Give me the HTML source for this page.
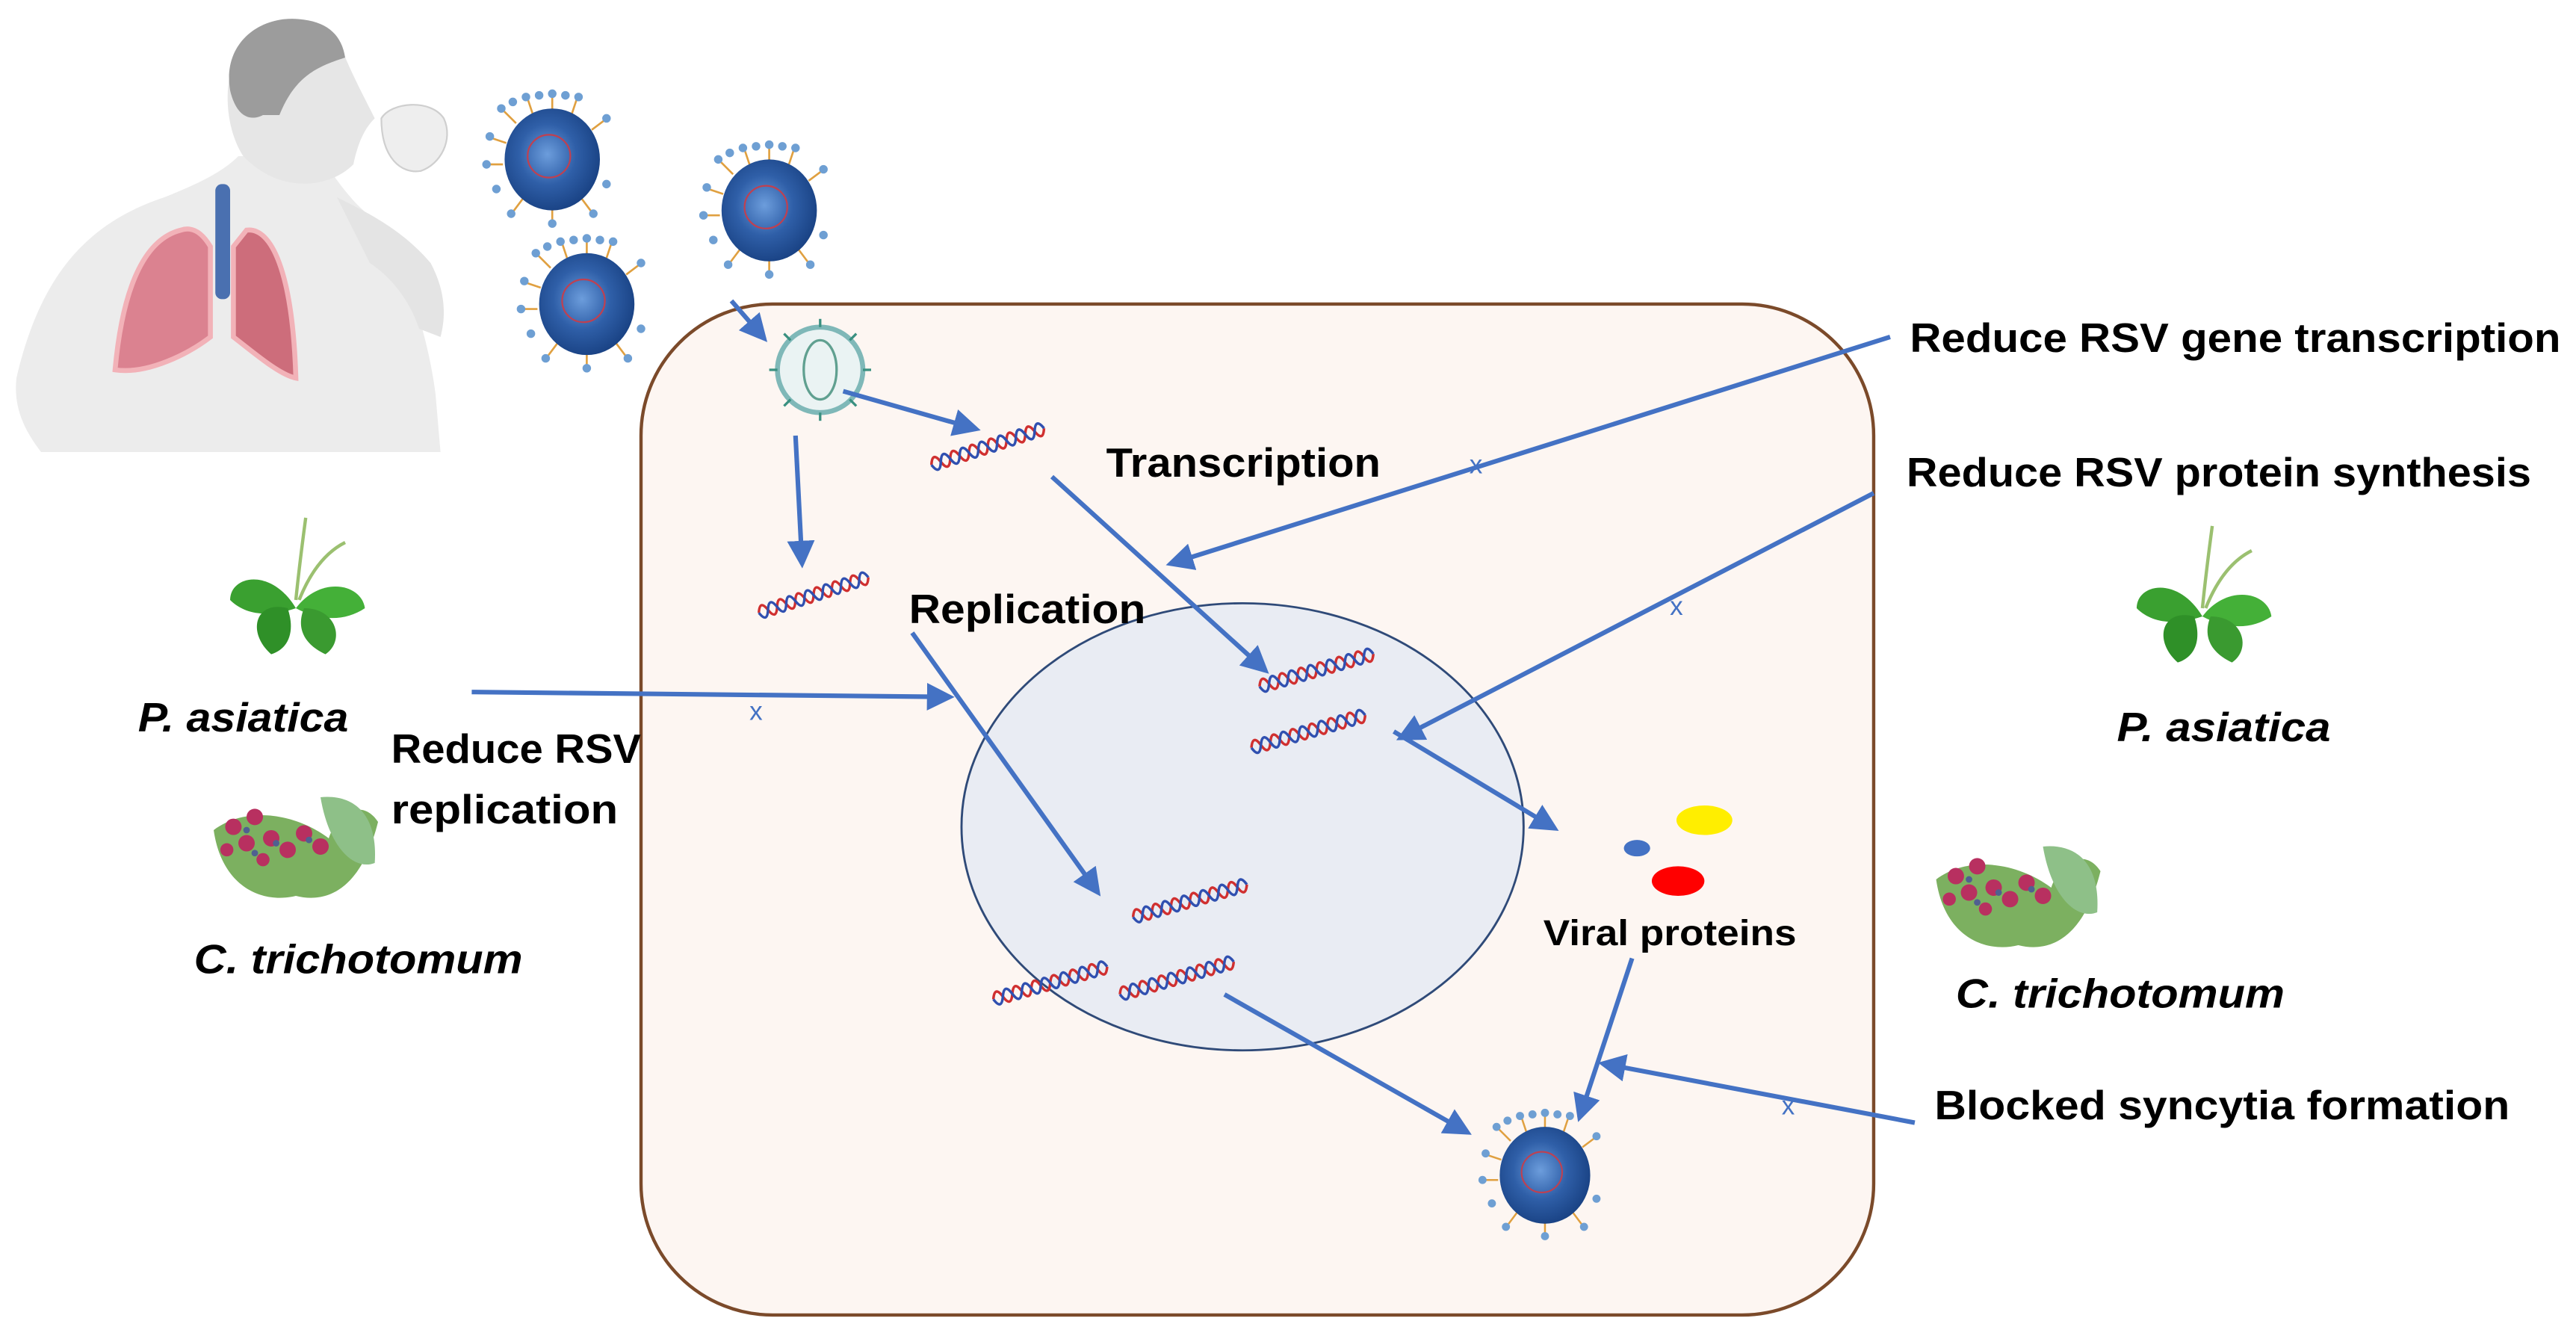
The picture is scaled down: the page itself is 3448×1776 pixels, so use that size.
<!DOCTYPE html>
<html><head><meta charset="utf-8"><style>html,body{margin:0;padding:0;background:#fff}svg{display:block}</style></head>
<body>
<svg width="3448" height="1776" viewBox="0 0 1567.3 807.3" xmlns="http://www.w3.org/2000/svg" font-family="'Liberation Sans', sans-serif">
<defs>
<marker id="ah" markerWidth="6" markerHeight="6" refX="5" refY="3" orient="auto" markerUnits="strokeWidth">
<path d="M0,0 L6,3 L0,6 Z" fill="#4472c4"/></marker>
<radialGradient id="vg" cx="0.45" cy="0.45" r="0.6"><stop offset="0" stop-color="#6c9ddc"/><stop offset="0.5" stop-color="#2f5fa8"/><stop offset="1" stop-color="#173f80"/></radialGradient>
<symbol id="virus" viewBox="-40 -40 80 80" overflow="visible">
<g stroke="#e0a040" stroke-width="1.2">
<line x1="-22" y1="-22" x2="-30" y2="-30"/><line x1="-12" y1="-28" x2="-15" y2="-37"/><line x1="0" y1="-30" x2="0" y2="-39"/><line x1="12" y1="-28" x2="15" y2="-37"/><line x1="-28" y1="-10" x2="-37" y2="-13"/><line x1="-30" y1="3" x2="-39" y2="3"/><line x1="24" y1="-18" x2="32" y2="-24"/><line x1="0" y1="30" x2="0" y2="38"/><line x1="-18" y1="24" x2="-24" y2="32"/><line x1="18" y1="24" x2="24" y2="32"/>
</g>
<g fill="#6e9fd3">
<circle cx="-31" cy="-31" r="2.6"/><circle cx="-16" cy="-38" r="2.6"/><circle cx="0" cy="-40" r="2.6"/><circle cx="16" cy="-38" r="2.6"/><circle cx="-38" cy="-14" r="2.6"/><circle cx="-40" cy="3" r="2.6"/><circle cx="33" cy="-25" r="2.6"/><circle cx="0" cy="39" r="2.6"/><circle cx="-25" cy="33" r="2.6"/><circle cx="25" cy="33" r="2.6"/><circle cx="33" cy="15" r="2.6"/><circle cx="-34" cy="18" r="2.6"/><circle cx="-8" cy="-39" r="2.6"/><circle cx="8" cy="-39" r="2.6"/><circle cx="-24" cy="-35" r="2.6"/>
</g>
<ellipse cx="0" cy="0" rx="29" ry="31" fill="url(#vg)"/>
<circle cx="-2" cy="-2" r="13" fill="none" stroke="#c04050" stroke-width="1"/>
</symbol>
<symbol id="rna" viewBox="0 0 72 20" overflow="visible">
<path d="M0,10 q3,-8 6,0 t6,0 t6,0 t6,0 t6,0 t6,0 t6,0 t6,0 t6,0 t6,0 t6,0 t6,0" fill="none" stroke="#d03030" stroke-width="1.6"/>
<path d="M0,10 q3,8 6,0 t6,0 t6,0 t6,0 t6,0 t6,0 t6,0 t6,0 t6,0 t6,0 t6,0 t6,0" fill="none" stroke="#3050b0" stroke-width="1.6"/>
</symbol>
<symbol id="leaf" viewBox="-45 -50 90 80" overflow="visible">
<path d="M0,-5 C2,-25 4,-40 6,-55" stroke="#9bc070" stroke-width="2" fill="none"/>
<path d="M2,-5 C10,-25 20,-35 30,-40" stroke="#9bc070" stroke-width="2" fill="none"/>
<path d="M0,0 C-15,-25 -40,-20 -40,-5 C-30,5 -15,5 0,0Z" fill="#3aa030"/>
<path d="M0,0 C15,-20 40,-15 42,0 C30,8 15,8 0,0Z" fill="#44b038"/>
<path d="M-5,0 C-25,-5 -30,15 -15,28 C-5,25 0,15 -5,0Z" fill="#2f9028"/>
<path d="M5,0 C25,0 30,20 18,28 C5,22 0,12 5,0Z" fill="#3a9a30"/>
</symbol>
<symbol id="flower" viewBox="-55 -35 110 70" overflow="visible">
<path d="M-50,-10 C-45,25 -20,35 0,30 C20,35 40,25 50,-15 C40,-30 25,-20 20,-5 C0,-20 -30,-25 -50,-10Z" fill="#7cb060"/>
<path d="M15,-30 C35,-32 50,-20 48,10 C35,15 20,0 15,-30Z" fill="#8ec088"/>
<g fill="#b83060"><circle cx="-38" cy="-12" r="5"/><circle cx="-25" cy="-18" r="5"/><circle cx="-30" cy="-2" r="5"/><circle cx="-15" cy="-5" r="5"/><circle cx="-5" cy="2" r="5"/><circle cx="5" cy="-8" r="5"/><circle cx="15" cy="0" r="5"/><circle cx="-42" cy="2" r="4"/><circle cx="-20" cy="8" r="4"/></g>
<g fill="#506090"><circle cx="-30" cy="-10" r="2"/><circle cx="-12" cy="-2" r="2"/><circle cx="8" cy="-4" r="2"/><circle cx="-25" cy="4" r="2"/></g>
</symbol>
</defs>

<!-- man -->
<g>
<path d="M10,230 C25,165 55,135 100,120 C120,112 135,105 145,95 L195,95 C205,110 215,125 230,135 C245,160 260,200 265,240 L268,275 L25,275 C15,262 8,248 10,230Z" fill="#ececec"/>
<path d="M205,120 C225,130 245,140 262,160 C270,175 272,190 268,205 L255,200 C250,185 240,170 225,160Z" fill="#e4e4e4"/>
<path d="M232,72 C238,62 262,60 270,72 C276,85 268,100 256,104 C244,106 232,96 232,72Z" fill="#eeeeee" stroke="#cfcfcf"/>
<path d="M148,95 C135,75 135,40 150,25 C165,12 195,12 208,30 C214,45 222,60 228,72 C222,78 218,86 215,100 C200,115 170,118 148,95Z" fill="#e6e6e6"/>
<path d="M140,55 C135,25 160,8 185,12 C200,14 208,22 210,35 C195,40 180,45 170,70 L160,70 C150,75 143,68 140,55Z" fill="#9c9c9c"/>
<path d="M110,140 C90,145 75,170 70,225 C90,228 115,215 128,205 L128,150 C122,140 116,138 110,140Z" fill="#d97080" opacity="0.85" stroke="#f4a8b0" stroke-width="3"/>
<path d="M150,140 C165,138 178,165 180,230 C170,228 155,215 142,205 L142,150Z" fill="#c85868" opacity="0.85" stroke="#f4a8b0" stroke-width="3"/>
<rect x="131" y="112" width="9" height="70" rx="4" fill="#4a70b0"/>
</g>

<!-- floating viruses -->
<use href="#virus" x="296" y="57" width="80" height="80"/>
<use href="#virus" x="317" y="145" width="80" height="80"/>
<use href="#virus" x="428" y="88" width="80" height="80"/>

<!-- cell -->
<rect x="390" y="185" width="750" height="615" rx="80" ry="80" fill="#fdf6f2" stroke="#7b4a2a" stroke-width="2"/>
<ellipse cx="756" cy="503" rx="171" ry="136" fill="#e9ecf3" stroke="#2f4a78" stroke-width="1.3"/>

<!-- entering virus -->
<circle cx="499" cy="225" r="26" fill="#eaf3f3" stroke="#7fb8b8" stroke-width="3"/>
<ellipse cx="499" cy="225" rx="10" ry="18" fill="none" stroke="#60a090" stroke-width="1.5"/>
<g stroke="#3a9080" stroke-width="1.5"><line x1="499" y1="199" x2="499" y2="194"/><line x1="499" y1="251" x2="499" y2="256"/><line x1="473" y1="225" x2="468" y2="225"/><line x1="525" y1="225" x2="530" y2="225"/><line x1="481" y1="207" x2="477" y2="203"/><line x1="517" y1="243" x2="521" y2="247"/><line x1="517" y1="207" x2="521" y2="203"/><line x1="481" y1="243" x2="477" y2="247"/></g>

<!-- RNA -->
<use href="#rna" x="565" y="262" width="72" height="20" transform="rotate(-18 600 272)"/>
<use href="#rna" x="460" y="352" width="70" height="20" transform="rotate(-18 495 362)"/>
<use href="#rna" x="765" y="398" width="72" height="20" transform="rotate(-16 800 408)"/>
<use href="#rna" x="760" y="435" width="72" height="20" transform="rotate(-16 796 445)"/>
<use href="#rna" x="688" y="538" width="72" height="20" transform="rotate(-16 724 548)"/>
<use href="#rna" x="603" y="588" width="72" height="20" transform="rotate(-16 639 598)"/>
<use href="#rna" x="680" y="585" width="72" height="20" transform="rotate(-16 716 595)"/>

<!-- protein dots -->
<ellipse cx="1037" cy="499" rx="17" ry="9" fill="#ffee00"/>
<ellipse cx="996" cy="516" rx="8" ry="5" fill="#4472c4"/>
<ellipse cx="1021" cy="536" rx="16" ry="9" fill="#ff0000"/>

<!-- progeny virus -->
<use href="#virus" x="902" y="677" width="76" height="76"/>

<!-- arrows -->
<g stroke="#4472c4" stroke-width="2.8" fill="none" marker-end="url(#ah)">
<line x1="445" y1="183" x2="465" y2="206"/>
<line x1="513" y1="238" x2="594" y2="261"/>
<line x1="484" y1="265" x2="488" y2="343"/>
<line x1="640" y1="290" x2="770" y2="408"/>
<line x1="555" y1="385" x2="668" y2="543"/>
<line x1="848" y1="445" x2="946" y2="504"/>
<line x1="745" y1="605" x2="893" y2="689"/>
<line x1="993" y1="583" x2="961" y2="680"/>
<line x1="1165" y1="683" x2="975" y2="647"/>
<line x1="1150" y1="205" x2="712" y2="343"/>
<line x1="1140" y1="300" x2="852" y2="449"/>
<line x1="287" y1="421" x2="578" y2="424"/>
</g>
<g font-size="16" fill="#4472c4" text-anchor="middle"><text x="1088" y="678">x</text><text x="898" y="288">x</text><text x="1020" y="374">x</text><text x="460" y="438">x</text></g>

<!-- plants -->
<use href="#leaf" x="135" y="320" width="90" height="80"/>
<use href="#leaf" x="1295" y="325" width="90" height="80"/>
<use href="#flower" x="125" y="480" width="110" height="70"/>
<use href="#flower" x="1173" y="510" width="110" height="70"/>

<!-- text -->
<g font-weight="bold" fill="#000">
<text x="673" y="290" font-size="25" textLength="167" lengthAdjust="spacingAndGlyphs">Transcription</text>
<text x="553" y="379" font-size="25" textLength="144" lengthAdjust="spacingAndGlyphs">Replication</text>
<text x="1162" y="214" font-size="25" textLength="396" lengthAdjust="spacingAndGlyphs">Reduce RSV gene transcription</text>
<text x="1160" y="296" font-size="25" textLength="380" lengthAdjust="spacingAndGlyphs">Reduce RSV protein synthesis</text>
<text x="1177" y="681" font-size="25" textLength="350" lengthAdjust="spacingAndGlyphs">Blocked syncytia formation</text>
<text x="939" y="575" font-size="22" textLength="154" lengthAdjust="spacingAndGlyphs">Viral proteins</text>
<text x="238" y="464" font-size="25" textLength="152" lengthAdjust="spacingAndGlyphs">Reduce RSV</text>
<text x="238" y="501" font-size="25" textLength="138" lengthAdjust="spacingAndGlyphs">replication</text>
<g font-style="italic">
<text x="84" y="445" font-size="25" textLength="128" lengthAdjust="spacingAndGlyphs">P. asiatica</text>
<text x="1288" y="451" font-size="25" textLength="130" lengthAdjust="spacingAndGlyphs">P. asiatica</text>
<text x="118" y="592" font-size="25" textLength="200" lengthAdjust="spacingAndGlyphs">C. trichotomum</text>
<text x="1190" y="613" font-size="25" textLength="200" lengthAdjust="spacingAndGlyphs">C. trichotomum</text>
</g>
</g>
</svg>
</body></html>
